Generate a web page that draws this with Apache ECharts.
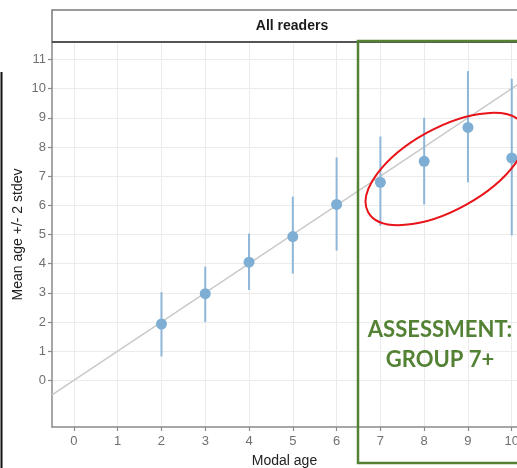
<!DOCTYPE html>
<html><head><meta charset="utf-8">
<script src="https://cdn.jsdelivr.net/npm/echarts@6/dist/echarts.min.js"></script>
<style>html,body{margin:0;padding:0;background:#fff}#c{width:517px;height:468px}</style>
</head><body><div id="c"></div>
<script>
// Data
const modalAge = [2, 3, 4, 5, 6, 7, 8, 9, 10];
const meanAge  = [1.93, 2.97, 4.05, 4.93, 6.03, 6.79, 7.51, 8.67, 7.62];
const lowerAge = [0.82, 2.00, 3.10, 3.66, 4.45, 5.30, 6.03, 6.79, 4.97];
const upperAge = [3.02, 3.90, 5.03, 6.30, 7.64, 8.36, 9.00, 10.60, 10.34];
const xTicks = [0,1,2,3,4,5,6,7,8,9,10];
const yTicks = [0,1,2,3,4,5,6,7,8,9,10,11];
const refLine = [[-0.5,-0.5],[10.5,10.5]];
const panelTitle = 'All readers';
const xTitle = 'Modal age';
const yTitle = 'Mean age +/- 2 stdev';
const noteText = 'ASSESSMENT:\nGROUP 7+';

const chart = echarts.init(document.getElementById('c'), null, {renderer:'canvas'});
const blue = '#7eaed4';
const barBlue = '#8fb6d8';
const axisGray = '#8a8a8a';
const labelFont = 'Liberation Sans, Arial, sans-serif';

const points = modalAge.map((x,i)=>[x, meanAge[i]]);
const bars = modalAge.map((x,i)=>[x, lowerAge[i], upperAge[i]]);

chart.setOption({
  animation:false,
  backgroundColor:'#fff',
  grid:{left:52, top:42, right:0, height:385, outerBoundsMode:'none', containLabel:false},
  xAxis:{
    type:'value', min:-0.5, max:10.12,
    name:xTitle, nameLocation:'middle', nameGap:27, nameMoveOverlap:false,
    nameTextStyle:{color:'#222', fontSize:14, fontFamily:labelFont},
    axisLine:{show:true, onZero:false, lineStyle:{color:axisGray, width:1.5}},
    axisTick:{show:true, customValues:xTicks, length:4, lineStyle:{color:axisGray, width:1.2}},
    axisLabel:{customValues:xTicks, color:'#707070', fontSize:13, fontFamily:labelFont, margin:8},
    splitLine:{show:true, lineStyle:{color:'#ebebeb', width:1}}
  },
  yAxis:{
    type:'value', min:-1.6, max:11.6,
    name:yTitle, nameLocation:'middle', nameGap:27, nameRotate:90, nameMoveOverlap:false,
    nameTextStyle:{color:'#222', fontSize:14, fontFamily:labelFont},
    axisLine:{show:true, onZero:false, lineStyle:{color:axisGray, width:1.5}},
    axisTick:{show:true, customValues:yTicks, length:4, lineStyle:{color:axisGray, width:1.2}},
    axisLabel:{customValues:yTicks, color:'#707070', fontSize:13, fontFamily:labelFont, margin:6},
    splitLine:{show:true, lineStyle:{color:'#ebebeb', width:1}}
  },
  series:[
    {type:'line', data:refLine, symbol:'none', silent:true,
     lineStyle:{color:'#c9c9c9', width:1.5}, z:2},
    {type:'custom', data:bars, z:3, clip:false,
     renderItem:function(params, api){
       const p1 = api.coord([api.value(0), api.value(1)]);
       const p2 = api.coord([api.value(0), api.value(2)]);
       return {type:'line', shape:{x1:p1[0], y1:p1[1], x2:p2[0], y2:p2[1]},
               style:{stroke:barBlue, lineWidth:2}};
     }},
    {type:'scatter', data:points, symbol:'circle', symbolSize:11, z:4, clip:false,
     itemStyle:{color:blue, opacity:1}}
  ],
  graphic:[
    {type:'rect', shape:{x:52, y:10, width:500, height:32},
     style:{fill:'#fff', stroke:'#7a7a7a', lineWidth:1.5}, z:10},
    {type:'line', shape:{x1:52, y1:42, x2:540, y2:42},
     style:{stroke:'#555', lineWidth:2}, z:11},
    {type:'text', x:292, y:26, z:12,
     style:{text:panelTitle, fill:'#1a1a1a', font:'bold 14px '+labelFont, align:'center', verticalAlign:'middle'}},
    {type:'line', shape:{x1:1.5, y1:72, x2:1.5, y2:468},
     style:{stroke:'#111', lineWidth:2}, z:10},
    {type:'rect', shape:{x:358, y:41, width:200, height:422},
     style:{fill:'none', stroke:'#548235', lineWidth:2.5}, z:20},
    {type:'text', x:440, y:345, z:21,
     style:{text:noteText, fill:'#548235', font:'bold 22px Lato, "Open Sans", sans-serif', align:'center', verticalAlign:'middle', lineHeight:30}},
    {type:'ellipse', x:446, y:169, rotation:Math.PI*29/180, z:21,
     shape:{cx:0, cy:0, rx:89, ry:41},
     style:{fill:'none', stroke:'#e8141a', lineWidth:2}}
  ]
});
</script>
</body></html>
